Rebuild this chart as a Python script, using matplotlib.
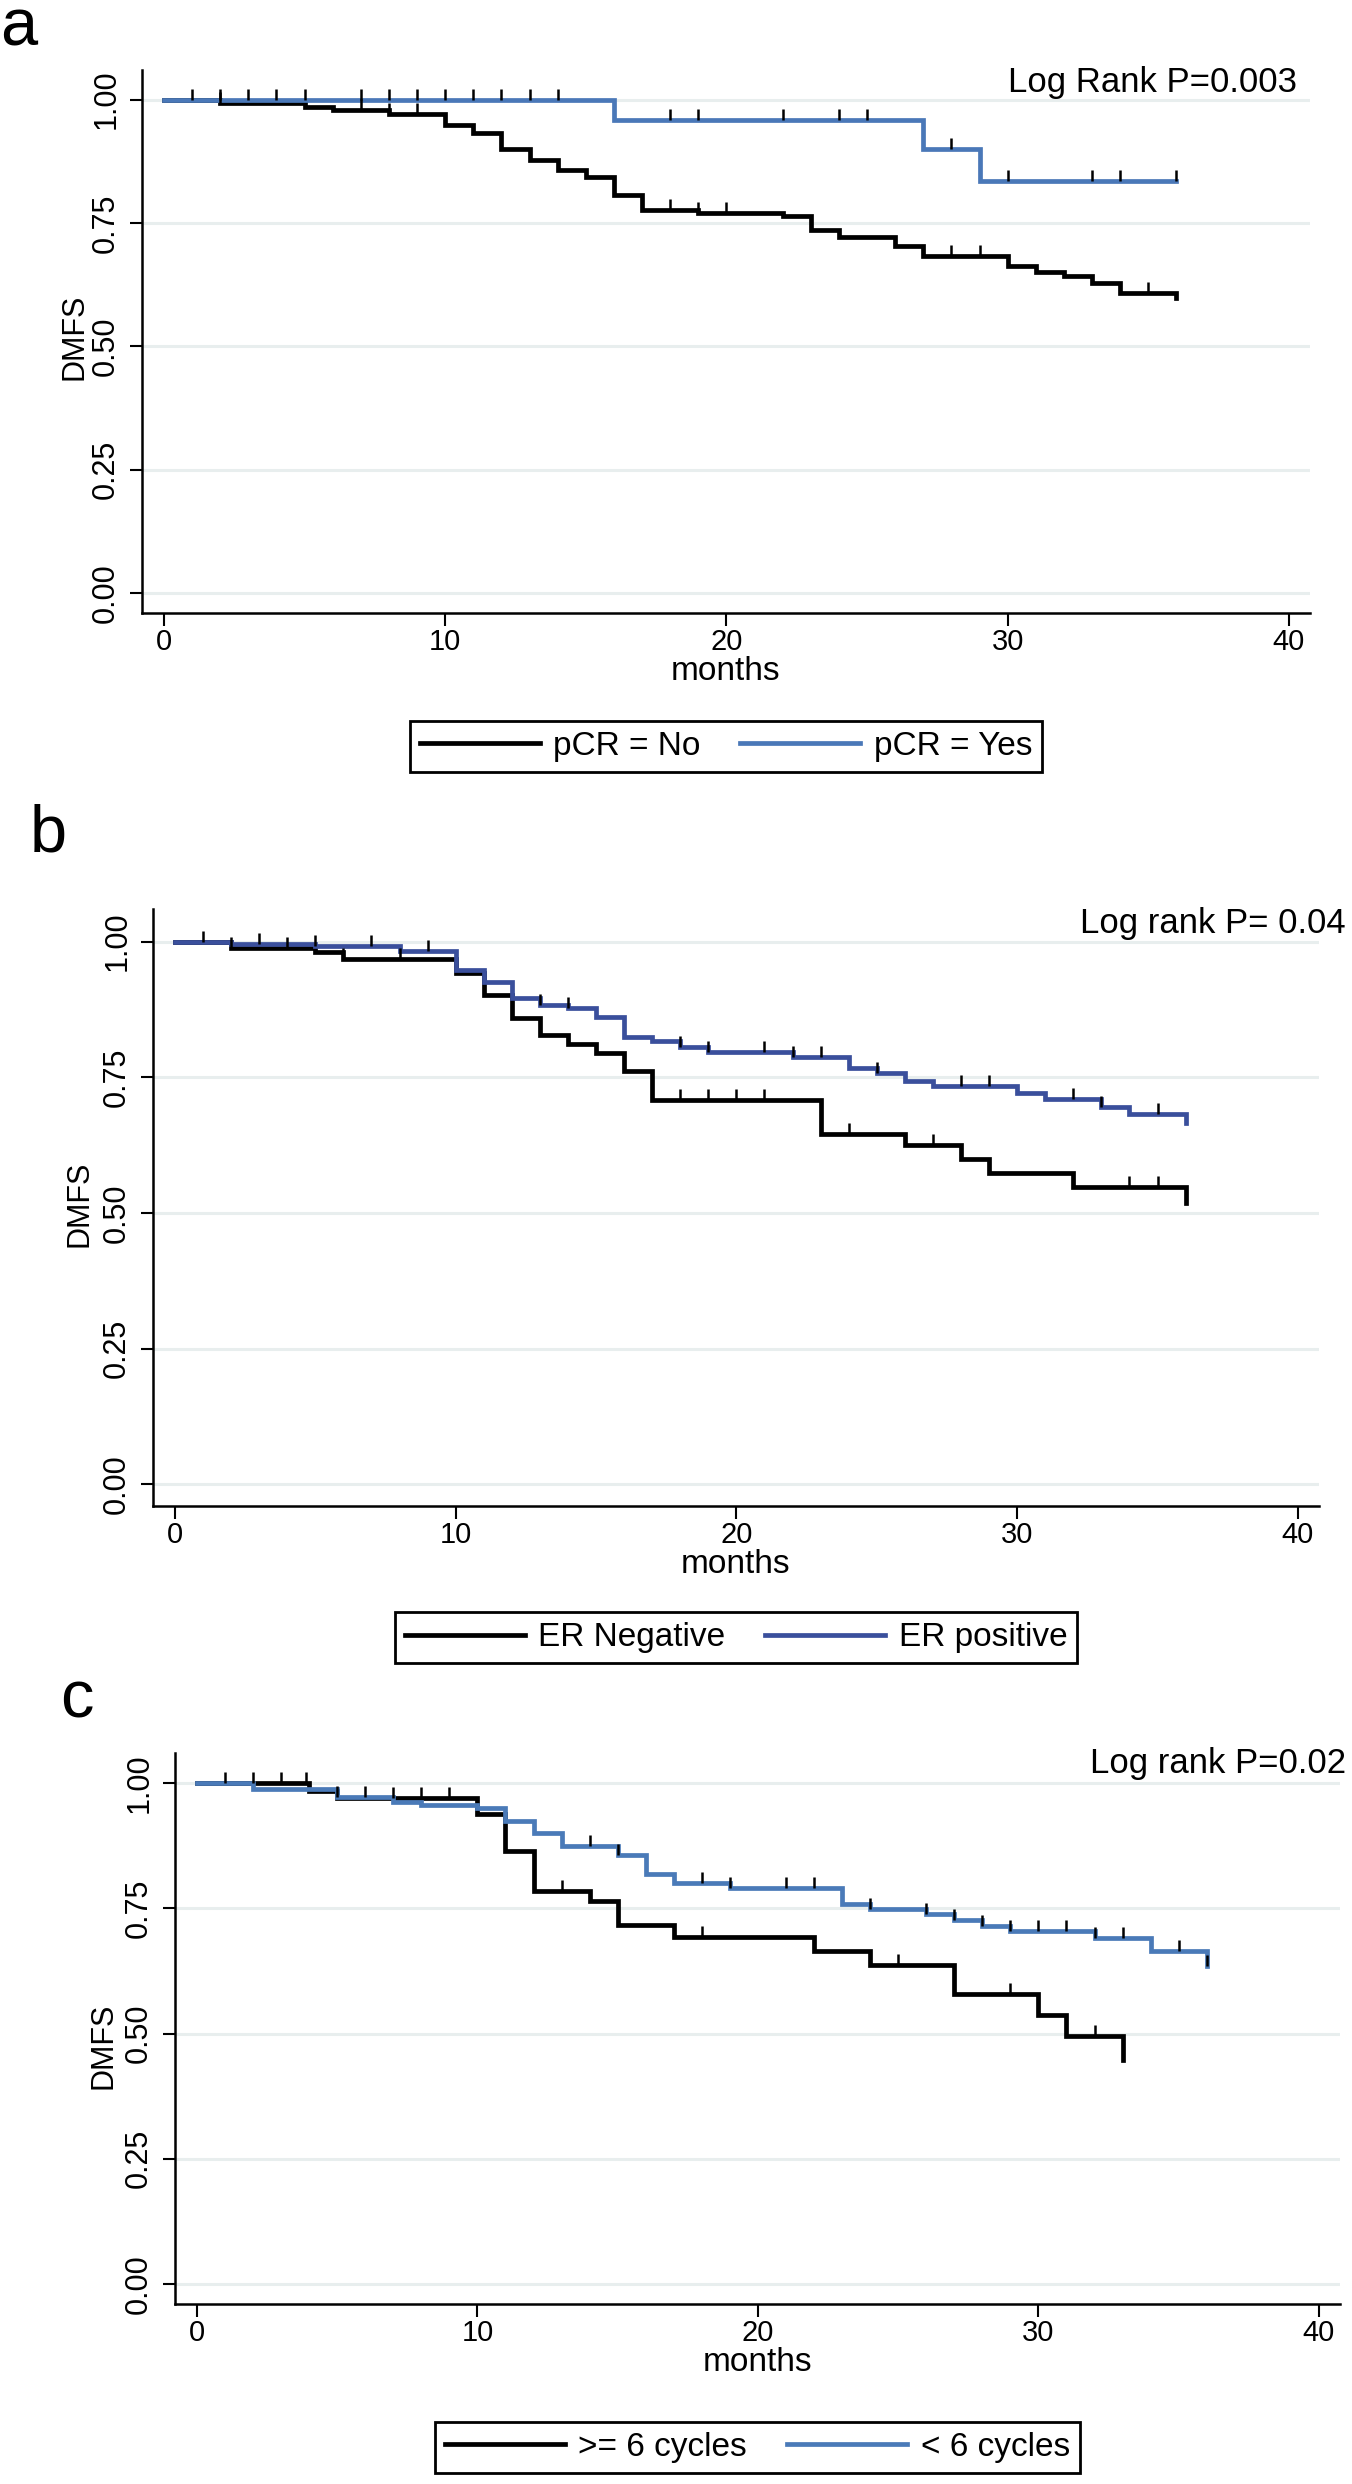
import matplotlib
matplotlib.use("Agg")
import matplotlib.pyplot as plt
import numpy as np

plt.rcParams['font.family'] = ['Liberation Sans', 'DejaVu Sans']

# panel a: pCR
a_no_t = [0, 2, 5, 6, 8, 10, 11, 12, 13, 14, 15, 16, 17, 19, 22, 23, 24, 26, 27, 30, 31, 32, 33, 34, 36]
a_no_s = [1.0, 0.993, 0.986, 0.978, 0.971, 0.949, 0.932, 0.899, 0.878, 0.858, 0.843, 0.807, 0.777,
          0.770, 0.764, 0.736, 0.722, 0.703, 0.684, 0.662, 0.650, 0.642, 0.628, 0.608, 0.598]
a_no_cens = [2, 7, 8, 9, 18, 19, 20, 28, 29, 35]
a_yes_t = [0, 16, 27, 29, 36]
a_yes_s = [1.0, 0.958, 0.899, 0.835, 0.835]
a_yes_cens = [1, 2, 3, 4, 5, 7, 8, 9, 10, 11, 12, 13, 14, 18, 19, 22, 24, 25, 28, 30, 33, 34, 36]

# panel b: ER status
b_neg_t = [0, 2, 5, 6, 10, 11, 12, 13, 14, 15, 16, 17, 23, 26, 28, 29, 32, 36]
b_neg_s = [1.0, 0.988, 0.980, 0.968, 0.942, 0.902, 0.860, 0.827, 0.812, 0.795, 0.762, 0.708,
           0.646, 0.625, 0.599, 0.573, 0.548, 0.518]
b_neg_cens = [2, 4, 6, 8, 18, 19, 20, 21, 24, 27, 34, 35]
b_pos_t = [0, 2, 5, 8, 10, 11, 12, 13, 14, 15, 16, 17, 18, 19, 22, 24, 25, 26, 27, 30, 31, 33, 34, 36]
b_pos_s = [1.0, 0.996, 0.991, 0.983, 0.948, 0.926, 0.896, 0.884, 0.878, 0.861, 0.824, 0.816,
           0.806, 0.797, 0.787, 0.767, 0.757, 0.744, 0.734, 0.721, 0.710, 0.695, 0.682, 0.665]
b_pos_cens = [1, 3, 5, 7, 9, 13, 14, 18, 19, 21, 22, 23, 25, 28, 29, 32, 33, 35]

# panel c: cycles
c_ge6_t = [0, 4, 5, 10, 11, 12, 14, 15, 17, 22, 24, 27, 30, 31, 33]
c_ge6_s = [1.0, 0.985, 0.971, 0.939, 0.865, 0.785, 0.765, 0.717, 0.692, 0.665, 0.637, 0.578,
           0.537, 0.496, 0.447]
c_ge6_cens = [2, 3, 3.9, 7, 8, 9, 13, 18, 25, 29, 32]
c_lt6_t = [0, 2, 5, 7, 8, 10, 11, 12, 13, 15, 16, 17, 19, 23, 24, 26, 27, 28, 29, 32, 34, 36]
c_lt6_s = [1.0, 0.989, 0.973, 0.963, 0.957, 0.950, 0.925, 0.900, 0.874, 0.857, 0.819, 0.800,
           0.790, 0.759, 0.748, 0.739, 0.726, 0.715, 0.705, 0.691, 0.665, 0.635]
c_lt6_cens = [1, 5, 6, 14, 15, 18, 19, 21, 22, 24, 26, 27, 28, 29, 30, 31, 32, 33, 35, 36]

W, H = 1352, 2484
GRID = "#e8eeee"


def kmPanel(fig, box, curves, pval, pval_xy, ylab_xy, leg_y):
    left, top, right, bottom = box
    ax = fig.add_axes([left / W, 1 - bottom / H, (right - left) / W, (bottom - top) / H])
    for t, s, cens, color, label in curves:
        ax.step(t, s, where="post", color=color, lw=3.4, label=label, zorder=3,
                solid_joinstyle="miter")
        idx = np.searchsorted(t, cens, side="right") - 1
        ax.plot(cens, np.array(s)[idx], ls="none", marker=2, ms=8, mew=1.8,
                color="black", zorder=4)
    ax.set_xlim(-0.78, 40.75)
    ax.set_ylim(-0.04, 1.06)
    ax.set_xticks([0, 10, 20, 30, 40])
    ax.set_yticks([0, 0.25, 0.5, 0.75, 1.0])
    ax.set_yticklabels(["0.00", "0.25", "0.50", "0.75", "1.00"], rotation=90, va="center")
    ax.yaxis.grid(True, color=GRID, lw=2.2, zorder=0)
    ax.set_axisbelow(True)
    for side in ["top", "right"]:
        ax.spines[side].set_visible(False)
    for side in ["left", "bottom"]:
        ax.spines[side].set_linewidth(1.8)
    ax.tick_params(axis="x", length=9, width=1.5, labelsize=21, pad=2)
    ax.tick_params(axis="y", length=9, width=1.5, labelsize=22, pad=6)
    ax.set_xlabel("months", fontsize=24, labelpad=0)
    ax.text(ylab_xy[0], ylab_xy[1], "DMFS", transform=ax.transAxes, rotation=90,
            ha="center", va="center", fontsize=22)
    ax.text(pval_xy[0], pval_xy[1], pval, transform=ax.transAxes, ha="right",
            va="baseline", fontsize=25)
    leg = ax.legend(loc="upper center", bbox_to_anchor=(0.5, leg_y), ncol=2, fontsize=24,
                    frameon=True, fancybox=False, edgecolor="black", framealpha=1,
                    handlelength=3.6, handletextpad=0.4, columnspacing=1.2,
                    borderpad=0.3, borderaxespad=0)
    leg.get_frame().set_linewidth(2)
    return ax


fig = plt.figure(figsize=(W / 100, H / 100), dpi=100)

kmPanel(fig, (142, 70, 1310, 613),
        [(a_no_t, a_no_s, a_no_cens, "black", "pCR = No"),
         (a_yes_t, a_yes_s, a_yes_cens, "#4a78b8", "pCR = Yes")],
        "Log Rank P=0.003", (0.989, 0.9595), (-0.058, 0.508), -0.199)

kmPanel(fig, (153, 909, 1319, 1506),
        [(b_neg_t, b_neg_s, b_neg_cens, "black", "ER Negative"),
         (b_pos_t, b_pos_s, b_pos_cens, "#3a4f9c", "ER positive")],
        "Log rank P= 0.04", (1.023, 0.960), (-0.063, 0.507), -0.178)

kmPanel(fig, (175, 1753, 1340, 2304),
        [(c_ge6_t, c_ge6_s, c_ge6_cens, "black", ">= 6 cycles"),
         (c_lt6_t, c_lt6_s, c_lt6_cens, "#4a7ab8", "< 6 cycles")],
        "Log rank P=0.02", (1.005, 0.964), (-0.061, 0.468), -0.214)

# panel letters
for letter, x, y in [("a", 0, 45), ("b", 30, 852), ("c", 60, 1717)]:
    fig.text(x / W, 1 - y / H, letter, fontsize=48, ha="left", va="baseline")

fig.savefig("out.png", dpi=100)
